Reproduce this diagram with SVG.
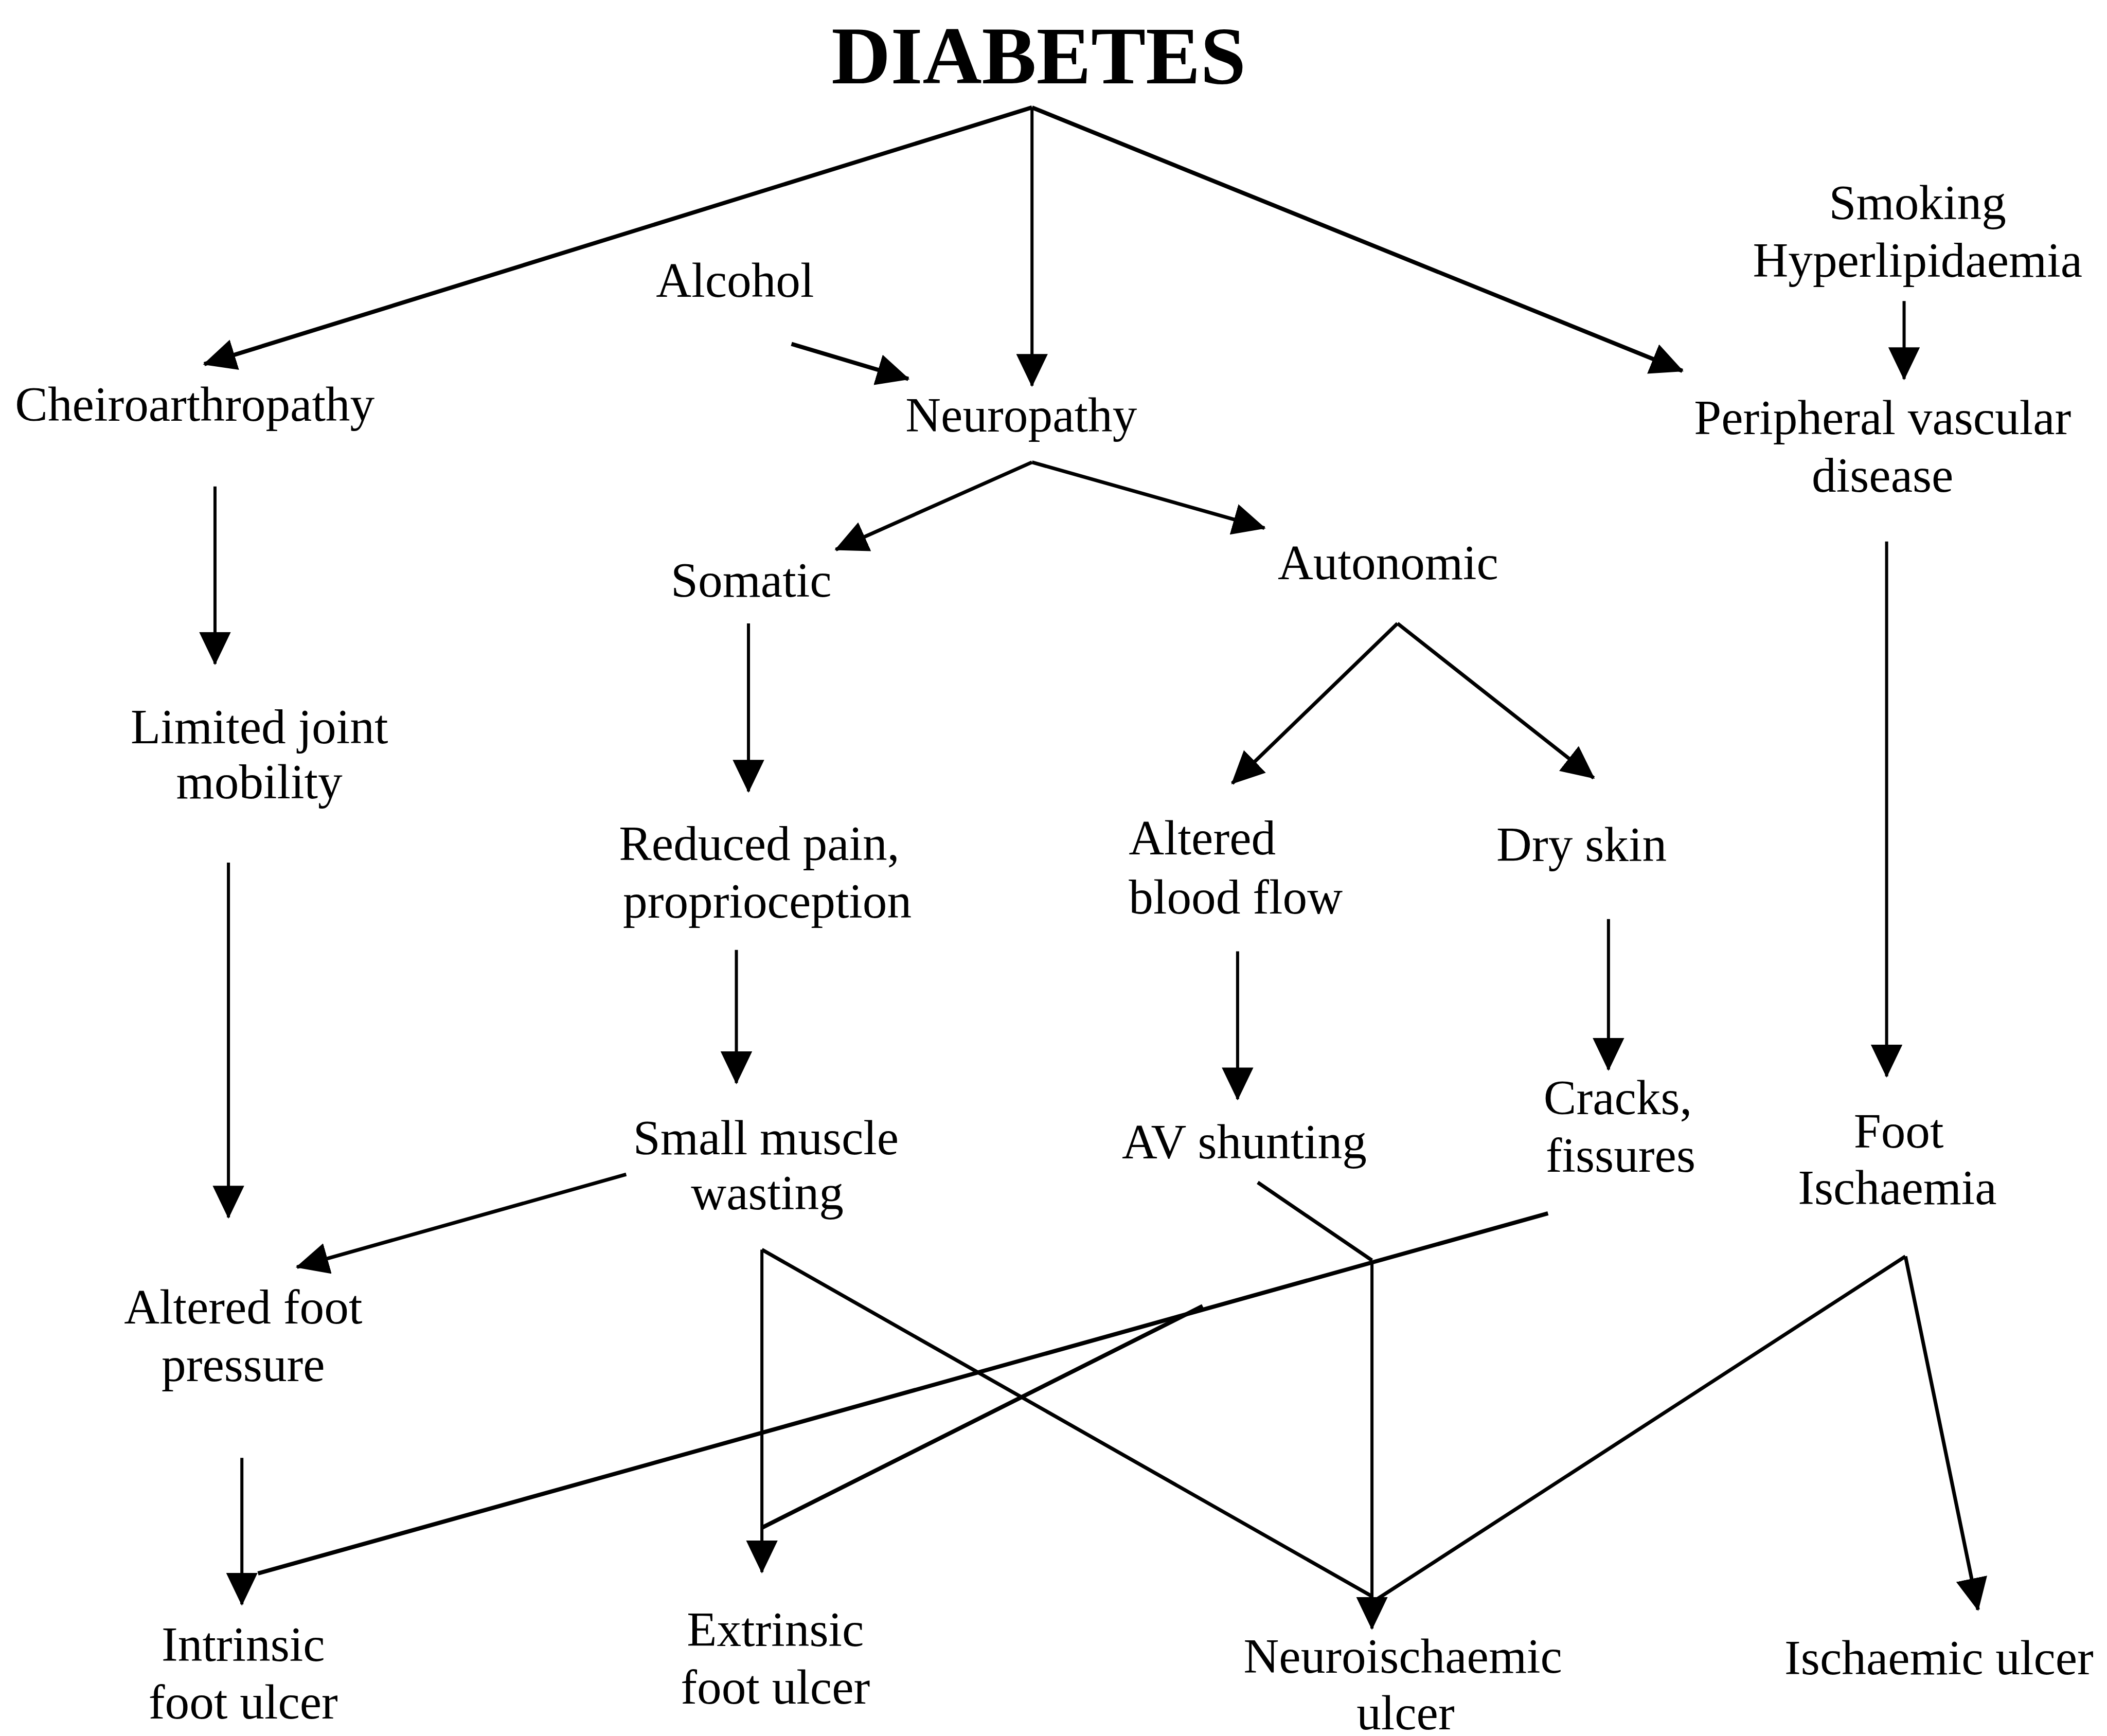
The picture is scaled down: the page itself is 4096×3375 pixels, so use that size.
<svg xmlns="http://www.w3.org/2000/svg" width="4096" height="3375" viewBox="0 0 4096 3375">
  <style>
    text { font-family: "Liberation Serif", "Times New Roman", serif; fill: #000; }
    .t { font-size: 36.5px; text-anchor: middle; }
    .l { font-size: 36.5px; text-anchor: start; }
    .title { font-size: 61px; font-weight: bold; text-anchor: middle; }
    .c { fill: none; stroke: #000; stroke-width: 2.3; stroke-linecap: butt; stroke-linejoin: miter; }
    .d { stroke-width: 2.7; }
    .k { stroke-width: 3.1; }
    .a { marker-end: url(#head); }
  </style>
  <defs>
    <marker id="head" viewBox="0 0 24.5 23.5" refX="23.5" refY="11.75" markerWidth="24.5" markerHeight="23.5" markerUnits="userSpaceOnUse" orient="auto">
      <path d="M0,0 L24.5,11.75 L0,23.5 Z" fill="#000"/>
    </marker>
  </defs>
  <rect width="4096" height="3375" fill="#fff"/>
  <!-- drawing laid out on a 1568 x 1292 grid, scaled to the page -->
  <g transform="scale(2.612245)">
    <g id="connectors">
      <path class="c k a" d="M768,80 L152,271"/>
      <path class="c a" d="M768,80 L768,287"/>
      <path class="c k a" d="M768,80 L1252,276"/>
      <path class="c k a" d="M589,256 L676,282"/>
      <path class="c a" d="M1417,224 L1417,282"/>
      <path class="c d a" d="M768,344 L622,409"/>
      <path class="c d a" d="M768,344 L941,393"/>
      <path class="c a" d="M160,362 L160,494"/>
      <path class="c a" d="M557,464 L557,589"/>
      <path class="c d a" d="M1040,464 L917,583"/>
      <path class="c d a" d="M1040,464 L1186,579"/>
      <path class="c a" d="M1404,403 L1404,801"/>
      <path class="c a" d="M170,642 L170,906"/>
      <path class="c a" d="M548,707 L548,806"/>
      <path class="c a" d="M921,708 L921,818"/>
      <path class="c a" d="M1197,684 L1197,796"/>
      <path class="c d a" d="M466,874 L221,943"/>
      <path class="c a" d="M567,930 L567,1170"/>
      <path class="c d" d="M567,930 L1021,1188"/>
      <path class="c d" d="M936,880 L1021,938"/>
      <path class="c a" d="M1021,938 L1021,1212"/>
      <path class="c k" d="M1152,903 L192,1171"/>
      <path class="c k" d="M895,972 L567,1137"/>
      <path class="c d" d="M1418,935 L1025,1190"/>
      <path class="c d a" d="M1418,935 L1472,1198"/>
      <path class="c a" d="M180,1085 L180,1194"/>
    </g>
    <g id="diabetes"><text class="title" x="773" y="62">DIABETES</text></g>
    <g id="alcohol"><text class="t" x="547" y="221">Alcohol</text></g>
    <g id="neuropathy"><text class="t" x="760" y="321">Neuropathy</text></g>
    <g id="cheiroarthropathy"><text class="t" x="145" y="313">Cheiroarthropathy</text></g>
    <g id="risk-factors">
      <text class="t" x="1427" y="163">Smoking</text>
      <text class="t" x="1427" y="206">Hyperlipidaemia</text>
    </g>
    <g id="peripheral-vascular-disease">
      <text class="t" x="1401" y="323">Peripheral vascular</text>
      <text class="t" x="1401" y="366">disease</text>
    </g>
    <g id="somatic"><text class="t" x="559" y="444">Somatic</text></g>
    <g id="autonomic"><text class="t" x="1033" y="431">Autonomic</text></g>
    <g id="limited-joint-mobility">
      <text class="t" x="193" y="553">Limited joint</text>
      <text class="t" x="193" y="594">mobility</text>
    </g>
    <g id="reduced-pain">
      <text class="t" x="565" y="640">Reduced pain,</text>
      <text class="t" x="571" y="683">proprioception</text>
    </g>
    <g id="altered-blood-flow">
      <text class="l" x="840" y="636">Altered</text>
      <text class="l" x="840" y="680">blood flow</text>
    </g>
    <g id="dry-skin"><text class="t" x="1177" y="641">Dry skin</text></g>
    <g id="small-muscle-wasting">
      <text class="t" x="570" y="859">Small muscle</text>
      <text class="t" x="571" y="900">wasting</text>
    </g>
    <g id="av-shunting"><text class="t" x="926" y="862">AV shunting</text></g>
    <g id="cracks-fissures">
      <text class="t" x="1204" y="829">Cracks,</text>
      <text class="t" x="1206" y="872">fissures</text>
    </g>
    <g id="foot-ischaemia">
      <text class="t" x="1413" y="854">Foot</text>
      <text class="t" x="1412" y="896">Ischaemia</text>
    </g>
    <g id="altered-foot-pressure">
      <text class="t" x="181" y="985">Altered foot</text>
      <text class="t" x="181" y="1028">pressure</text>
    </g>
    <g id="intrinsic-foot-ulcer">
      <text class="t" x="181" y="1236">Intrinsic</text>
      <text class="t" x="181" y="1279">foot ulcer</text>
    </g>
    <g id="extrinsic-foot-ulcer">
      <text class="t" x="577" y="1225">Extrinsic</text>
      <text class="t" x="577" y="1268">foot ulcer</text>
    </g>
    <g id="neuroischaemic-ulcer">
      <text class="t" x="1044" y="1245">Neuroischaemic</text>
      <text class="t" x="1046" y="1287">ulcer</text>
    </g>
    <g id="ischaemic-ulcer"><text class="t" x="1443" y="1246">Ischaemic ulcer</text></g>
  </g>
</svg>
